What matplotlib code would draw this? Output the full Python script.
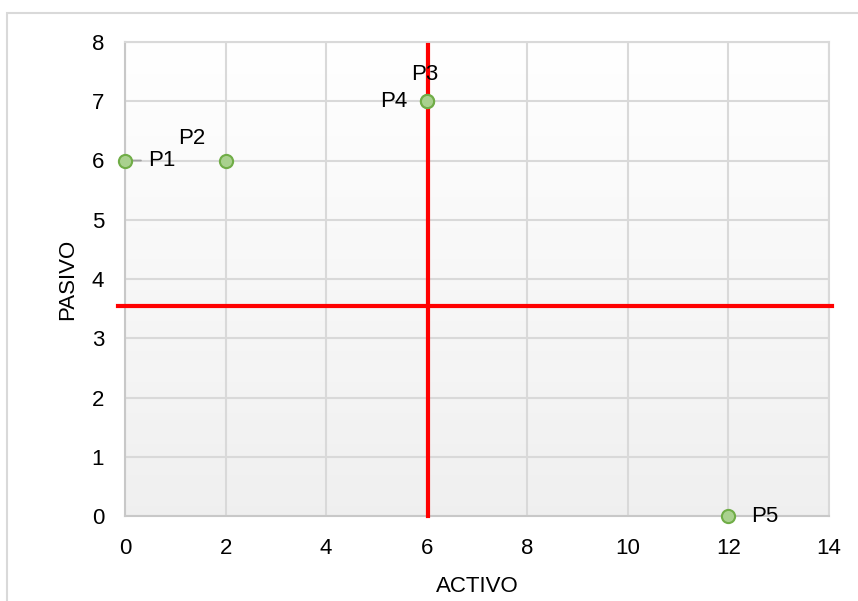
import numpy as np
import matplotlib.pyplot as plt
from matplotlib.patches import Rectangle

plt.rcParams['font.family'] = ['Liberation Sans', 'DejaVu Sans']

# data
labels = ['P1', 'P2', 'P3', 'P4', 'P5']
activo = [0, 2, 6, 6, 12]
pasivo = [6, 6, 7, 7, 0]
# label offsets (points) and alignments
offsets = [(16.5, 0), (-24, 16), (-1.5, 19), (-14, 0), (16.5, 0)]
aligns = ['left', 'center', 'center', 'right', 'left']

# red reference lines
v_line_x = 6.03
v_line_y = [0, 7.95]
h_line_y = 3.545
h_line_x = [-0.14, 14.06]

x_ticks = [0, 2, 4, 6, 8, 10, 12, 14]
y_ticks = [0, 1, 2, 3, 4, 5, 6, 7, 8]

fs = 16

fig = plt.figure(figsize=(8.58, 6.01), dpi=100)
ax = fig.add_axes([125/858, 1-516/601, (829-125)/858, (516-42)/601])

# figure frame
fig.patches.append(Rectangle((7/858, -0.01), 1.0, 1-13/601+0.01, transform=fig.transFigure,
                             fill=False, edgecolor='#d9d9d9', linewidth=1.5))

# gradient background
grad = np.linspace(1.0, 0.94, 256).reshape(-1, 1)
ax.imshow(np.dstack([grad, grad, grad]), extent=[0, 14, 0, 8], aspect='auto',
          origin='upper', zorder=0)

ax.set_xlim(0, 14)
ax.set_ylim(0, 8)
ax.set_xticks(x_ticks)
ax.set_yticks(y_ticks)
ax.grid(True, color='#d9d9d9', linewidth=1.5, zorder=1)
ax.set_axisbelow(True)
for s in ax.spines.values():
    s.set_color('#d9d9d9')
    s.set_linewidth(1.5)
ax.spines['left'].set_color('#c8c8c8')
ax.spines['bottom'].set_color('#c8c8c8')
ax.tick_params(axis='x', length=0, labelsize=fs, pad=16)
ax.tick_params(axis='y', length=0, labelsize=fs, pad=15)

ax.plot([v_line_x, v_line_x], v_line_y, color='#ff0000', lw=3, zorder=3, clip_on=False)
ax.plot(h_line_x, [h_line_y, h_line_y], color='#ff0000', lw=3, zorder=3, clip_on=False)

# leader line for P1 label
ax.annotate('', xy=(activo[0], pasivo[0]), xytext=(11.5, 0), textcoords='offset points',
            arrowprops=dict(arrowstyle='-', color='#a0a0a0', lw=1.3, shrinkA=0, shrinkB=0),
            zorder=3.5)

ax.scatter(activo, pasivo, s=90, facecolor='#a9d18e', edgecolor='#70ad47', linewidth=1.5,
           zorder=4, clip_on=False)

for i, lab in enumerate(labels):
    ax.annotate(lab, (activo[i], pasivo[i]), xytext=offsets[i], textcoords='offset points',
                ha=aligns[i], va='center', fontsize=fs, zorder=5)

ax.set_xlabel('ACTIVO', fontsize=fs, labelpad=12)
ax.set_ylabel('PASIVO', fontsize=fs, labelpad=10)

fig.savefig('out.png', dpi=100)
